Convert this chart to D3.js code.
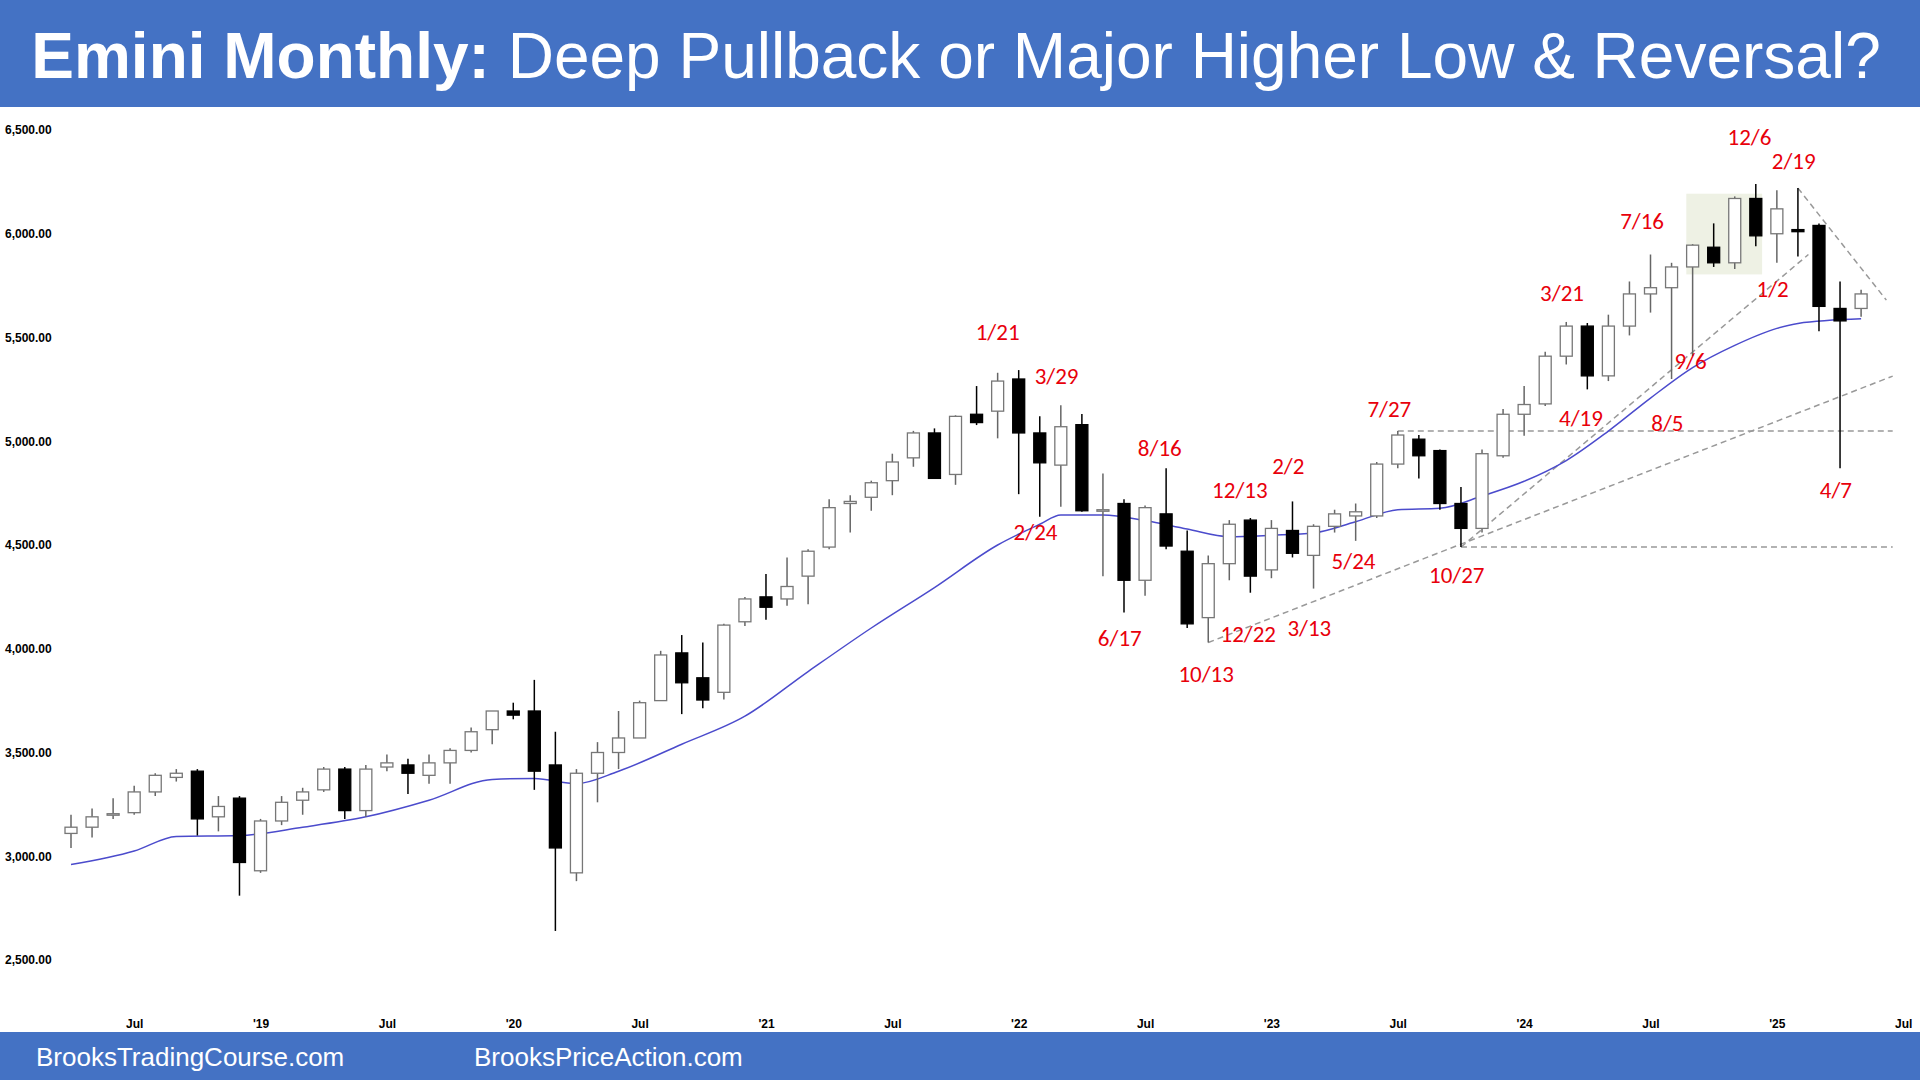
<!DOCTYPE html>
<html><head><meta charset="utf-8">
<script src="https://cdn.jsdelivr.net/npm/d3@7"></script>
<style>
body{margin:0;background:#fff;}
svg{display:block;font-family:"Liberation Sans",Arial,sans-serif;}
</style></head><body>
<script>
// monthly bars, Apr 2018 .. May 2025
const opens  = [3110,3140,3200,3210,3310,3380,3410,3190,3280,2930,3170,3270,3320,3420,3220,3430,3440,3390,3450,3510,3610,3700,3700,3440,2920,3400,3500,3570,3750,3980,3860,3790,4130,4250,4240,4350,4490,4700,4730,4810,4920,5040,4840,5130,5145,5300,5040,4885,5080,4670,4700,4330,4650,4470,4150,4410,4620,4380,4570,4450,4590,4640,4640,4890,5010,4955,4700,4580,4930,5130,5180,5410,5555,5315,5555,5710,5740,5840,5935,5860,6170,6000,6020,6040,5640,5640];
const highs  = [3200,3230,3280,3340,3400,3420,3420,3290,3290,3180,3290,3330,3430,3430,3440,3490,3470,3490,3520,3620,3700,3740,3850,3600,3420,3550,3700,3750,3990,4066,4030,4120,4250,4360,4440,4480,4720,4740,4810,4940,5050,5062,5125,5266,5330,5343,5120,5174,5131,4845,4720,4690,4870,4570,4450,4620,4630,4620,4710,4600,4670,4700,4900,5050,5030,4960,4780,4960,5155,5266,5431,5575,5570,5610,5770,5900,5860,5950,6050,6180,6240,6210,6220,6050,5770,5730];
const lows   = [3040,3090,3180,3200,3290,3360,3100,3120,2810,2920,3150,3200,3310,3180,3190,3410,3300,3350,3350,3500,3540,3660,3320,2640,2880,3260,3420,3570,3750,3685,3713,3756,4110,4140,4207,4214,4480,4560,4665,4740,4877,4820,4790,5078,5014,4745,4636,4684,4660,4350,4175,4255,4480,4100,4030,4330,4270,4340,4440,4290,4560,4520,4630,4870,4820,4670,4490,4560,4920,5026,5170,5370,5250,5290,5510,5620,5300,5410,5840,5830,5940,5860,5890,5530,4870,5600];
const closes = [3140,3190,3205,3310,3390,3400,3180,3240,2970,3170,3260,3310,3420,3220,3420,3450,3400,3450,3510,3600,3700,3680,3410,3040,3400,3500,3570,3740,3970,3836,3753,4114,4240,4200,4300,4470,4680,4710,4800,4900,5040,4821,5120,5090,5290,5040,4896,5070,4665,4670,4330,4680,4495,4120,4410,4600,4350,4580,4460,4590,4650,4660,4890,5030,4930,4700,4580,4940,5130,5177,5410,5555,5315,5555,5710,5740,5840,5945,5860,6170,5990,6120,6010,5650,5580,5710];

// 20 bar EMA (month index, value)
const emaIdx = [0,3,5,8,11,14,17,20,22,24,26,29,32,35,38,41,44,46,47,49,51,53,55,57,59,61,63,65,67,69,71,73,75,77,79,81,82,85];
const emaVal = [2960,3025,3095,3100,3140,3190,3270,3370,3375,3350,3410,3540,3675,3890,4100,4295,4500,4600,4645,4645,4618,4577,4540,4547,4558,4612,4670,4677,4736,4807,4907,5049,5208,5355,5462,5544,5568,5590];

const yTicks = [2500,3000,3500,4000,4500,5000,5500,6000,6500];
const xTickIdx = [3,9,15,21,27,33,39,45,51,57,63,69,75,81,87];
const xTickLbl = ["Jul","'19","Jul","'20","Jul","'21","Jul","'22","Jul","'23","Jul","'24","Jul","'25","Jul"];

const labelText = ["1/21","3/29","2/24","8/16","6/17","10/13","12/13","12/22","2/2","3/13","5/24","7/27","10/27","3/21","4/19","7/16","9/6","8/5","12/6","2/19","1/2","4/7"];
const labelIdx  = [44.0,46.8,45.8,51.7,49.8,53.9,55.5,55.9,57.8,58.8,60.9,62.6,65.8,70.8,71.7,74.6,76.9,75.8,79.7,81.8,80.8,83.8];
const labelVal  = [5527,5314,4565,4966,4051,3880,4765,4069,4883,4099,4423,5155,4358,5715,5113,6063,5385,5090,6465,6352,5733,4765];

// dashed reference lines: [i1, v1, i2, v2]
const refLines = [[63,5050,86.5,5050],[66,4490,86.5,4490],[54,4030,86.5,5314],[66,4490,82.5,5900],[82,6220,86.2,5680]];
const boxRange = [76.7,80.3,5804,6193];

const W = 1920, H = 1080;
const svg = d3.select("body").append("svg").attr("width", W).attr("height", H);

const x = d3.scaleLinear().domain([0, 85]).range([71, 71 + 85 * 21.06]);
const y = d3.scaleLinear().domain([2500, 6500]).range([960, 130]);

// header / footer
svg.append("rect").attr("width", W).attr("height", 107).attr("fill", "#4472c4");
svg.append("rect").attr("y", 1032).attr("width", W).attr("height", 48).attr("fill", "#4472c4");
const title = svg.append("text").attr("x", 956).attr("y", 78).attr("text-anchor", "middle")
    .attr("fill", "#fff").attr("font-size", 64);
title.append("tspan").attr("font-weight", "bold").text("Emini Monthly:");
title.append("tspan").text(" Deep Pullback or Major Higher Low & Reversal?");
svg.append("text").attr("x", 36).attr("y", 1066).attr("fill", "#fff").attr("font-size", 26).text("BrooksTradingCourse.com");
svg.append("text").attr("x", 474).attr("y", 1066).attr("fill", "#fff").attr("font-size", 26).text("BrooksPriceAction.com");

// shaded box
svg.append("rect").attr("x", x(boxRange[0])).attr("y", y(boxRange[3]))
    .attr("width", x(boxRange[1]) - x(boxRange[0])).attr("height", y(boxRange[2]) - y(boxRange[3]))
    .attr("fill", "#eef1e4");

// axes
const yAxis = svg.append("g").attr("transform", "translate(2,0)")
    .call(d3.axisRight(y).tickValues(yTicks).tickSize(0).tickFormat(d3.format(",.2f")));
yAxis.select(".domain").remove();
yAxis.selectAll("text").attr("font-size", 12).attr("font-weight", "bold").attr("fill", "#000")
    .attr("font-family", "Liberation Sans, Arial");

const xAxis = svg.append("g").attr("transform", "translate(0,1016)")
    .call(d3.axisBottom(x).tickValues(xTickIdx).tickSize(0).tickFormat((d, i) => xTickLbl[i]));
xAxis.select(".domain").remove();
xAxis.selectAll("text").attr("font-size", 12).attr("font-weight", "bold").attr("fill", "#000")
    .attr("font-family", "Liberation Sans, Arial");

// dashed lines
svg.selectAll(".ref").data(refLines).enter().append("line")
    .attr("x1", d => x(d[0])).attr("y1", d => y(d[1]))
    .attr("x2", d => x(d[2])).attr("y2", d => y(d[3]))
    .attr("stroke", "#999").attr("stroke-width", 1.5).attr("stroke-dasharray", "6,4");

// ema
const ema = d3.line().x(d => x(d[0])).y(d => y(d[1])).curve(d3.curveMonotoneX);
svg.append("path").datum(emaIdx.map((d, i) => [d, emaVal[i]]))
    .attr("fill", "none").attr("stroke", "#4b4bcc").attr("stroke-width", 1.5).attr("d", ema);

// candles
const bars = d3.range(opens.length);
const bw = 12;
const g = svg.append("g");
g.selectAll(".wick").data(bars).enter().append("line")
    .attr("x1", i => x(i)).attr("x2", i => x(i))
    .attr("y1", i => y(highs[i])).attr("y2", i => y(lows[i]))
    .attr("stroke", i => closes[i] >= opens[i] ? "#666" : "#000").attr("stroke-width", 1.5);
g.selectAll(".body").data(bars).enter().append("rect")
    .attr("x", i => x(i) - bw / 2).attr("width", bw)
    .attr("y", i => y(Math.max(opens[i], closes[i])))
    .attr("height", i => Math.max(1.5, Math.abs(y(opens[i]) - y(closes[i]))))
    .attr("fill", i => closes[i] >= opens[i] ? "#fff" : "#000")
    .attr("stroke", i => closes[i] >= opens[i] ? "#777" : "#000").attr("stroke-width", 1.3);

// labels
svg.selectAll(".lbl").data(labelText).enter().append("text")
    .attr("x", (d, i) => x(labelIdx[i])).attr("y", (d, i) => y(labelVal[i]))
    .attr("dy", "0.35em").attr("text-anchor", "middle")
    .attr("font-family", "Calibri, Carlito, Liberation Sans, sans-serif")
    .attr("font-size", 23).attr("fill", "#e8000b").text(d => d);
</script>
</body></html>
